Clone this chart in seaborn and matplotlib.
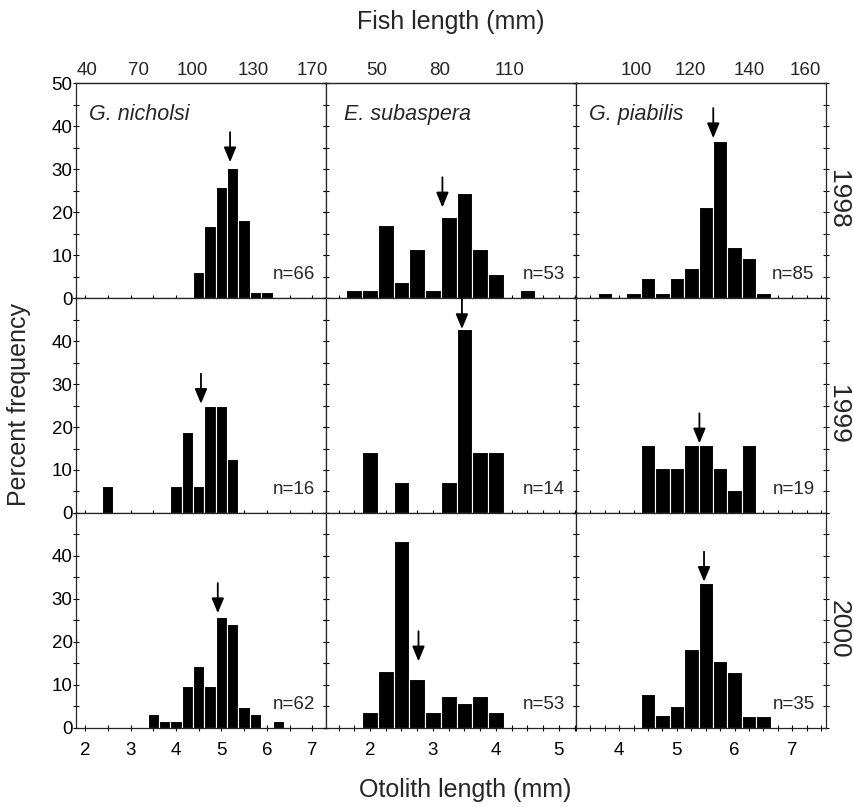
import matplotlib
matplotlib.use("Agg")
import matplotlib.pyplot as plt
from matplotlib.ticker import MultipleLocator
import pandas as pd
import seaborn as sns

species = ["G. nicholsi", "E. subaspera", "G. piabilis"]
years = ["1998", "1999", "2000"]

# otolith length bin centres (mm) and percent frequency, per species / year
nich_98_x = [4.5, 4.75, 5.0, 5.25, 5.5, 5.75, 6.0]
nich_98_y = [6.1, 16.7, 25.8, 30.3, 18.2, 1.5, 1.5]
nich_99_x = [2.5, 4.0, 4.25, 4.5, 4.75, 5.0, 5.25]
nich_99_y = [6.3, 6.3, 18.8, 6.3, 25.0, 25.0, 12.5]
nich_00_x = [3.5, 3.75, 4.0, 4.25, 4.5, 4.75, 5.0, 5.25, 5.5, 5.75, 6.25]
nich_00_y = [3.2, 1.6, 1.6, 9.7, 14.5, 9.7, 25.8, 24.2, 4.8, 3.2, 1.6]

sub_98_x = [1.75, 2.0, 2.25, 2.5, 2.75, 3.0, 3.25, 3.5, 3.75, 4.0, 4.5]
sub_98_y = [1.9, 1.9, 17.0, 3.8, 11.3, 1.9, 18.9, 24.5, 11.3, 5.7, 1.9]
sub_99_x = [2.0, 2.5, 3.25, 3.5, 3.75, 4.0]
sub_99_y = [14.3, 7.1, 7.1, 42.9, 14.3, 14.3]
sub_00_x = [2.0, 2.25, 2.5, 2.75, 3.0, 3.25, 3.5, 3.75, 4.0]
sub_00_y = [3.8, 13.2, 43.4, 11.3, 3.8, 7.5, 5.7, 7.5, 3.8]

pia_98_x = [3.75, 4.25, 4.5, 4.75, 5.0, 5.25, 5.5, 5.75, 6.0, 6.25, 6.5]
pia_98_y = [1.2, 1.2, 4.7, 1.2, 4.7, 7.1, 21.2, 36.5, 11.8, 9.4, 1.2]
pia_99_x = [4.5, 4.75, 5.0, 5.25, 5.5, 5.75, 6.0, 6.25]
pia_99_y = [15.8, 10.5, 10.5, 15.8, 15.8, 10.5, 5.3, 15.8]
pia_00_x = [4.5, 4.75, 5.0, 5.25, 5.5, 5.75, 6.0, 6.25, 6.5]
pia_00_y = [8.0, 2.9, 5.2, 18.3, 33.6, 15.6, 12.9, 2.7, 2.7]

# sample sizes, mean otolith length (arrow) and arrow tip height
n_fish = [[66, 53, 85], [16, 14, 19], [62, 53, 35]]
mean_len = [[5.19, 3.15, 5.63], [4.55, 3.46, 5.39], [4.92, 2.77, 5.47]]
arrow_tip = [[31.6, 21.1, 37.2], [25.4, 42.8, 16.2], [26.7, 15.5, 34.0]]

# fish length labels on the top axis, placed at otolith positions
fish_labels = [["40", "70", "100", "130", "170"], ["50", "80", "110"],
               ["100", "120", "140", "160"]]
fish_pos = [[2.04, 3.17, 4.36, 5.70, 7.0], [2.11, 3.1, 4.22],
            [4.29, 5.24, 6.25, 7.22]]

otolith_ticks = [[2, 3, 4, 5, 6, 7], [2, 3, 4, 5], [4, 5, 6, 7]]

panels = [
    [(nich_98_x, nich_98_y), (sub_98_x, sub_98_y), (pia_98_x, pia_98_y)],
    [(nich_99_x, nich_99_y), (sub_99_x, sub_99_y), (pia_99_x, pia_99_y)],
    [(nich_00_x, nich_00_y), (sub_00_x, sub_00_y), (pia_00_x, pia_00_y)],
]

sns.set_style("ticks")
plt.rcParams["font.family"] = ["Liberation Sans", "DejaVu Sans"]
plt.rcParams["axes.linewidth"] = 0.9

fig, axes = plt.subplots(3, 3, figsize=(8.54, 8.07), dpi=100, sharex="col",
                         gridspec_kw=dict(hspace=0, wspace=0))
fig.subplots_adjust(left=0.089, right=0.967, top=0.897, bottom=0.098)

xlims = [(1.8, 7.3), (1.3, 5.27), (3.25, 7.58)]
minor_step = [0.5, 0.25, 0.25]

for r in range(3):
    for c in range(3):
        ax = axes[r, c]
        cx, py = panels[r][c]
        df = pd.DataFrame({"otolith": cx, "pct": py})
        sns.histplot(data=df, x="otolith", weights="pct", binwidth=0.25,
                     binrange=(min(cx) - 0.125, max(cx) + 0.125), ax=ax,
                     color="black", edgecolor="white", linewidth=0.8,
                     alpha=1, stat="count")
        ax.set_xlim(*xlims[c])
        ax.set_ylim(0, 50)
        ax.set_xlabel("")
        ax.set_ylabel("")

        ax.set_xticks(otolith_ticks[c])
        ax.xaxis.set_minor_locator(MultipleLocator(minor_step[c]))
        ax.set_yticks([0, 10, 20, 30, 40, 50])
        ax.yaxis.set_minor_locator(MultipleLocator(5))
        ax.tick_params(which="both", direction="inout", length=4, width=0.8,
                       left=True, right=True, top=False, bottom=True,
                       labelsize=13.5, colors="black")
        ax.tick_params(axis="x", pad=8, labelbottom=(r == 2))
        ax.tick_params(axis="y", pad=0.5, labelleft=(c == 0))
        if c == 0:
            labels = ["0", "10", "20", "30", "40", "50" if r == 0 else ""]
            ax.set_yticklabels(labels)

        m = mean_len[r][c]
        tip = arrow_tip[r][c]
        ax.annotate("", xy=(m, tip), xytext=(m, tip + 7),
                    arrowprops=dict(arrowstyle="-|>,head_length=0.6,head_width=0.25",
                                    color="black", lw=1.3, shrinkA=0, shrinkB=0,
                                    mutation_scale=15))

        ax.text(0.955, 0.09, f"n={n_fish[r][c]}", transform=ax.transAxes,
                ha="right", va="baseline", fontsize=13.5)

        if r == 0:
            ax.text(0.072 if c == 1 else 0.052, 0.905, species[c],
                    transform=ax.transAxes, ha="left", va="top",
                    fontsize=15.5, style="italic")
            top = ax.secondary_xaxis("top")
            top.set_xticks(fish_pos[c], fish_labels[c])
            top.tick_params(length=0, pad=3, labelsize=13.5)
        if c == 2:
            ax.text(1.05, 0.46, years[r], transform=ax.transAxes,
                    rotation=-90, ha="center", va="center", fontsize=19)

fig.text(451 / 854, 1 - 22 / 807, "Fish length (mm)", ha="center",
         va="center", fontsize=18)
fig.text(465 / 854, 1 - 790 / 807, "Otolith length (mm)", ha="center",
         va="center", fontsize=18)
fig.text(19 / 854, 1 - 405 / 807, "Percent frequency", ha="center",
         va="center", rotation=90, fontsize=18)

fig.savefig("out.png", dpi=100)
